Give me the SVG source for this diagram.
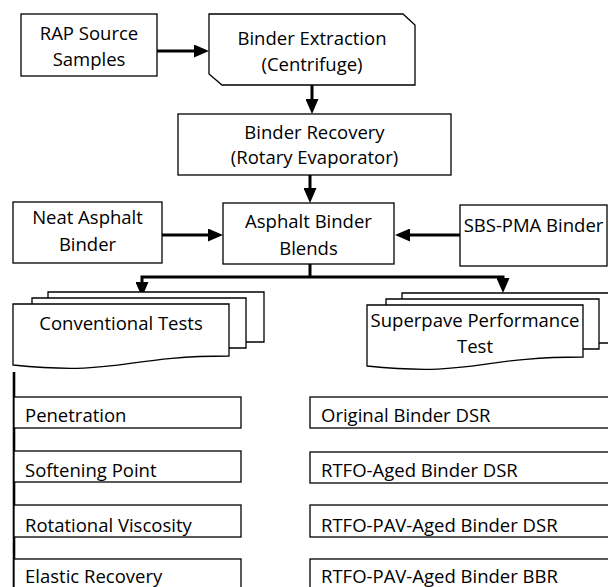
<svg xmlns="http://www.w3.org/2000/svg" width="608" height="587" viewBox="0 0 608 587">
<style>
.box{fill:#fff;stroke:#000;stroke-width:1.3}
.t{font-family:"Open Sans","Noto Sans","Liberation Sans",sans-serif;font-size:18.5px;fill:#000}
.c{text-anchor:middle}
.con{fill:none;stroke:#000;stroke-width:3}
</style>
<defs>
<marker id="ah" viewBox="0 0 15 13" refX="7" refY="6.5" markerWidth="15" markerHeight="13" markerUnits="userSpaceOnUse" orient="auto">
<path d="M0,0 L15,6.5 L0,13 Z" fill="#000"/>
</marker>
<clipPath id="r1"><rect x="0" y="397" width="620" height="31"/></clipPath>
<clipPath id="r2"><rect x="0" y="451" width="620" height="31"/></clipPath>
<clipPath id="r3"><rect x="0" y="505" width="620" height="32"/></clipPath>
<clipPath id="r4"><rect x="0" y="559" width="620" height="40"/></clipPath>
</defs>
<rect width="608" height="587" fill="#fff"/>

<g id="connectors">
<line class="con" x1="157" y1="51" x2="201" y2="51" marker-end="url(#ah)"/>
<line class="con" x1="312" y1="85" x2="312" y2="106" marker-end="url(#ah)"/>
<line class="con" x1="310" y1="175" x2="310" y2="195" marker-end="url(#ah)"/>
<line class="con" x1="162" y1="235" x2="215" y2="235" marker-end="url(#ah)"/>
<line class="con" x1="460" y1="235" x2="403" y2="235" marker-end="url(#ah)"/>
<polyline class="con" points="310,264 310,277"/>
<polyline class="con" points="142,288 142,277 503,277 503,284"/>
<line class="con" x1="142" y1="282" x2="142" y2="289" marker-end="url(#ah)"/>
<line class="con" x1="503" y1="280" x2="503" y2="285" marker-end="url(#ah)"/>
<line x1="14" y1="372" x2="14" y2="590" stroke="#000" stroke-width="2.6"/>
</g>

<g id="rap">
<rect class="box" x="21" y="14" width="136" height="62"/>
<text class="t c" x="89" y="40">RAP Source</text>
<text class="t c" x="89" y="66">Samples</text>
</g>

<g id="extraction">
<path class="box" d="M209,14 H403 L415,25 V85 H222 L209,74 Z"/>
<text class="t c" x="312" y="45">Binder Extraction</text>
<text class="t c" x="312" y="71">(Centrifuge)</text>
</g>

<g id="recovery">
<rect class="box" x="178" y="114" width="273" height="61"/>
<text class="t c" x="314.5" y="139">Binder Recovery</text>
<text class="t c" x="314.5" y="164">(Rotary Evaporator)</text>
</g>

<g id="neat">
<rect class="box" x="13" y="202" width="149" height="61"/>
<text class="t c" x="87.5" y="224">Neat Asphalt</text>
<text class="t c" x="87.5" y="251">Binder</text>
</g>

<g id="blends">
<rect class="box" x="223" y="203" width="171" height="61"/>
<text class="t c" x="308.5" y="228">Asphalt Binder</text>
<text class="t c" x="308.5" y="255">Blends</text>
</g>

<g id="sbs">
<rect class="box" x="460" y="205" width="147" height="61"/>
<text class="t c" x="533.5" y="232">SBS-PMA Binder</text>
</g>

<g id="conventional">
<path class="box" d="M48,298 V292 H264 V342 H246"/>
<path class="box" d="M32,304 V298 H246 V348 H229"/>
<path class="box" d="M13,304 H229 V356 C121,356 121,376 13,365 Z"/>
<text class="t c" x="121" y="330">Conventional Tests</text>
</g>

<g id="superpave">
<path class="box" d="M402,299 V293 H618 V343 H599"/>
<path class="box" d="M386,305 V299 H599 V349 H583"/>
<path class="box" d="M367,305 H583 V357 C475,357 475,377 367,366 Z"/>
<text class="t c" x="475" y="327">Superpave Performance</text>
<text class="t c" x="475" y="353">Test</text>
</g>

<g id="penetration">
<rect class="box" x="14" y="397" width="227" height="31"/>
<text class="t" x="25" y="422" clip-path="url(#r1)">Penetration</text>
</g>
<g id="softening">
<rect class="box" x="14" y="451" width="227" height="31"/>
<text class="t" x="25" y="477" clip-path="url(#r2)">Softening Point</text>
</g>
<g id="viscosity">
<rect class="box" x="14" y="505" width="227" height="32"/>
<text class="t" x="25" y="532" clip-path="url(#r3)">Rotational Viscosity</text>
</g>
<g id="elastic">
<rect class="box" x="14" y="559" width="227" height="40"/>
<text class="t" x="25" y="583" clip-path="url(#r4)">Elastic Recovery</text>
</g>

<g id="origdsr">
<rect class="box" x="310" y="397" width="310" height="31"/>
<text class="t" x="321" y="422" clip-path="url(#r1)">Original Binder DSR</text>
</g>
<g id="rtfodsr">
<rect class="box" x="310" y="452" width="310" height="31"/>
<text class="t" x="321" y="477" clip-path="url(#r2)">RTFO-Aged Binder DSR</text>
</g>
<g id="pavdsr">
<rect class="box" x="310" y="505" width="310" height="32"/>
<text class="t" x="321" y="532" clip-path="url(#r3)">RTFO-PAV-Aged Binder DSR</text>
</g>
<g id="bbr">
<rect class="box" x="310" y="559" width="310" height="40"/>
<text class="t" x="321" y="583" clip-path="url(#r4)">RTFO-PAV-Aged Binder BBR</text>
</g>
</svg>
